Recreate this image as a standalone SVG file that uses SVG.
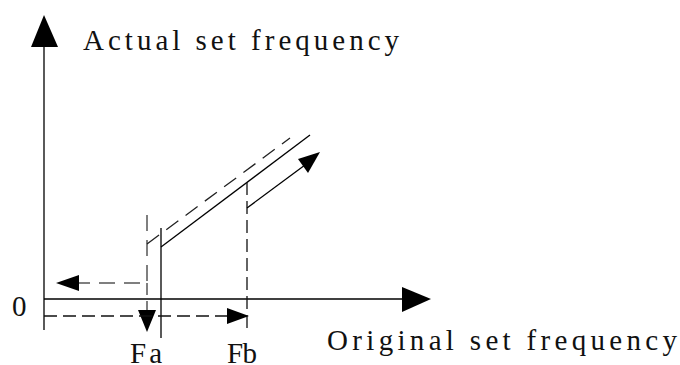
<svg xmlns="http://www.w3.org/2000/svg" width="680" height="365" viewBox="0 0 680 365">
<style>
.s{stroke:#000;stroke-width:1.3;fill:none}
.d{stroke:#111;stroke-width:1.3;fill:none;stroke-dasharray:13 6}
.g{stroke:#555;stroke-width:1.5;fill:none;stroke-dasharray:16 9}
.h{fill:#000;stroke:none}
.t{font-family:"Liberation Serif","DejaVu Serif",serif;font-size:29px;fill:#111}
</style>
<rect width="680" height="365" fill="#fff"/>
<g id="axes">
<line class="s" x1="44" y1="45" x2="44" y2="330"/>
<polygon class="h" points="44,15 31,47 58,47"/>
<line class="s" x1="44" y1="299" x2="404" y2="299"/>
<polygon class="h" points="431,299 402,287 402,312"/>
</g>
<g id="connectors">
<path class="g" d="M147,215 V283 H78"/>
<line class="g" x1="147" y1="283" x2="147" y2="312" style="stroke-dasharray:12 6"/>
<polygon class="h" points="56,283 79,275 79,291"/>
<polygon class="h" points="147,332 138,310 156,310"/>
<line class="s" x1="161" y1="228" x2="161" y2="338"/>
<line class="s" x1="161" y1="247" x2="310" y2="135"/>
<line class="g" x1="147" y1="244" x2="290" y2="138" style="stroke:#222;stroke-width:1.3;stroke-dasharray:15 9"/>
<line class="d" x1="247" y1="182" x2="247" y2="330"/>
<line class="d" x1="44" y1="316" x2="229" y2="316"/>
<polygon class="h" points="249,316 227,308 227,324"/>
<line class="s" x1="247" y1="208" x2="305" y2="165"/>
<polygon class="h" points="320,152 298,159 308,173"/>
</g>
<g id="labels">
<text class="t" x="83" y="50" textLength="316" lengthAdjust="spacing">Actual set frequency</text>
<text class="t" x="327" y="350" textLength="350" lengthAdjust="spacing">Original set frequency</text>
<text class="t" x="12" y="316">0</text>
<text class="t" x="130" y="363" textLength="32" lengthAdjust="spacing">Fa</text>
<text class="t" x="227" y="363" textLength="30" lengthAdjust="spacing">Fb</text>
</g>
</svg>
